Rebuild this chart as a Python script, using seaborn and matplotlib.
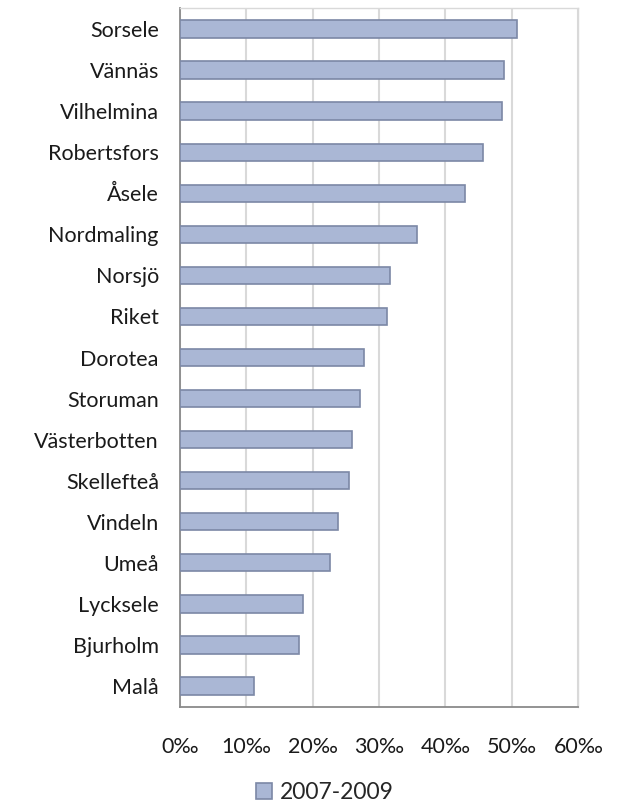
import matplotlib
matplotlib.use("Agg")
import matplotlib.pyplot as plt
import seaborn as sns
import pandas as pd
from matplotlib.patches import Patch
from matplotlib.ticker import FuncFormatter

categories = ["Sorsele", "Vännäs", "Vilhelmina", "Robertsfors", "Åsele", "Nordmaling",
              "Norsjö", "Riket", "Dorotea", "Storuman", "Västerbotten", "Skellefteå",
              "Vindeln", "Umeå", "Lycksele", "Bjurholm", "Malå"]
values = [50.8, 48.8, 48.5, 45.6, 42.9, 35.7, 31.6, 31.2, 27.8, 27.2, 26.0, 25.5,
          23.9, 22.6, 18.5, 17.9, 11.2]
series_name = "2007-2009"
x_ticks = [0, 10, 20, 30, 40, 50, 60]

df = pd.DataFrame({"kommun": categories, "varde": values})

sns.set_theme(style="white")
plt.rcParams["font.family"] = ["Lato", "DejaVu Sans"]

fill = "#aab7d5"
edge = "#7c88a6"

fig = plt.figure(figsize=(6.34, 8.06), dpi=100)
ax = fig.add_axes([0.2834, 0.1234, 0.9122 - 0.2834, 0.9895 - 0.1234])

sns.barplot(data=df, x="varde", y="kommun", orient="h", color=fill,
            edgecolor=edge, linewidth=1.2, width=0.42, saturation=1, ax=ax, zorder=3)

ax.set_xlim(0, 60)
ax.set_ylim(len(categories) - 0.5, -0.5)
ax.set_xticks(x_ticks)
ax.xaxis.set_major_formatter(FuncFormatter(lambda v, p: f"{int(v)}‰"))
ax.set_xlabel("")
ax.set_ylabel("")
ax.grid(axis="x", color="#d9d9d9", linewidth=1.5, zorder=0)
ax.set_axisbelow(True)

for s in ["left", "bottom"]:
    ax.spines[s].set_color("#8a8a8a")
    ax.spines[s].set_linewidth(1.3)
for s in ["top", "right"]:
    ax.spines[s].set_color("#d9d9d9")
    ax.spines[s].set_linewidth(1.0)

ax.tick_params(axis="y", length=0, pad=15, labelsize=15.5, labelcolor="#1a1a1a")
ax.tick_params(axis="x", length=0, pad=22, labelsize=15.5, labelcolor="#1a1a1a")

handles = [Patch(facecolor=fill, edgecolor=edge, linewidth=1.2, label=series_name)]
fig.legend(handles=handles, loc="center", bbox_to_anchor=(0.513, 0.0167),
           frameon=False, fontsize=16.5, handlelength=0.7, handleheight=0.7,
           handletextpad=0.35, borderpad=0)

fig.savefig("out.png", dpi=100)
